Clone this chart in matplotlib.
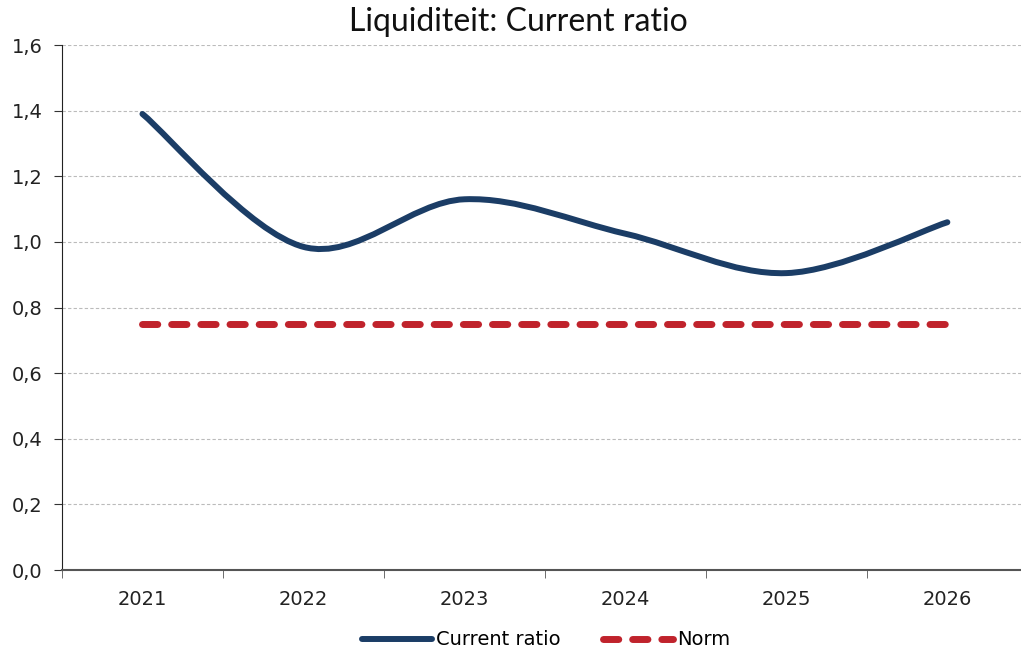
import matplotlib
matplotlib.use("Agg")
import matplotlib.pyplot as plt
import numpy as np
from matplotlib.path import Path
from matplotlib.patches import PathPatch
from matplotlib.lines import Line2D
from matplotlib.ticker import FuncFormatter

jaren = ["2021", "2022", "2023", "2024", "2025", "2026"]
current_ratio = [1.39, 0.985, 1.13, 1.025, 0.905, 1.06]
norm = [0.75, 0.75, 0.75, 0.75, 0.75, 0.75]

BLAUW = "#1B3D66"
ROOD = "#C0232C"
STREEP = (2.2, 2.0)


def smooth_path(xs, ys):
    # Excel-achtige gladde lijn (Bezier, Catmull-Rom met 1/6)
    pts = np.column_stack([xs, ys]).astype(float)
    n = len(pts)
    verts = [pts[0]]
    codes = [Path.MOVETO]
    for i in range(n - 1):
        p0 = pts[i - 1] if i > 0 else pts[i]
        p1 = pts[i]
        p2 = pts[i + 1]
        p3 = pts[i + 2] if i + 2 < n else pts[i + 1]
        c1 = p1 + (p2 - p0) / 6.0
        c2 = p2 - (p3 - p1) / 6.0
        verts += [c1, c2, p2]
        codes += [Path.CURVE4] * 3
    return Path(verts, codes)


fig = plt.figure(figsize=(10.21, 6.53), dpi=100)
ax = fig.add_axes([0.0607, 0.127, 0.946, 0.804])

x = np.arange(len(jaren))
pad = PathPatch(smooth_path(x, current_ratio), facecolor="none", edgecolor=BLAUW,
                lw=4.3, capstyle="round", joinstyle="round", zorder=3)
ax.add_patch(pad)
ax.plot(x, norm, color=ROOD, lw=5, dashes=STREEP, dash_capstyle="round", zorder=3)

ax.set_xlim(-0.5, len(jaren) - 0.5)
ax.set_ylim(0, 1.6)
ax.set_yticks(np.arange(0, 1.61, 0.2))
ax.yaxis.set_major_formatter(FuncFormatter(lambda v, p: f"{v:.1f}".replace(".", ",")))
ax.set_xticks(x)
ax.set_xticklabels(jaren)
ax.set_xticks(np.arange(-0.5, len(jaren)), minor=True)
ax.tick_params(axis="x", which="major", length=0, pad=14, labelsize=14, colors="#222222")
ax.tick_params(axis="x", which="minor", length=6, color="#555555")
ax.tick_params(axis="y", length=6, pad=8, labelsize=14, colors="#222222", color="#333333")

ax.grid(axis="y", color="#BBBBBB", linestyle=(0, (3, 2)), lw=0.8)
ax.set_axisbelow(True)
for s in ["top", "right"]:
    ax.spines[s].set_visible(False)
ax.spines["left"].set_color("#222222")
ax.spines["bottom"].set_color("#555555")
ax.spines["bottom"].set_linewidth(1.5)

fig.text(0.508, 0.966, "Liquiditeit: Current ratio", ha="center", va="center",
         fontsize=23, family="Lato", color="#111111")

handles = [
    Line2D([], [], color=BLAUW, lw=4.3, solid_capstyle="round"),
    Line2D([], [], color=ROOD, lw=5, dashes=STREEP, dash_capstyle="round"),
]
fig.legend(handles, ["Current ratio", "Norm"], loc="center", bbox_to_anchor=(0.535, 0.02),
           ncol=2, frameon=False, fontsize=14, handlelength=3.6, handletextpad=0.2,
           columnspacing=2.2)

plt.savefig("out.png", dpi=100)
